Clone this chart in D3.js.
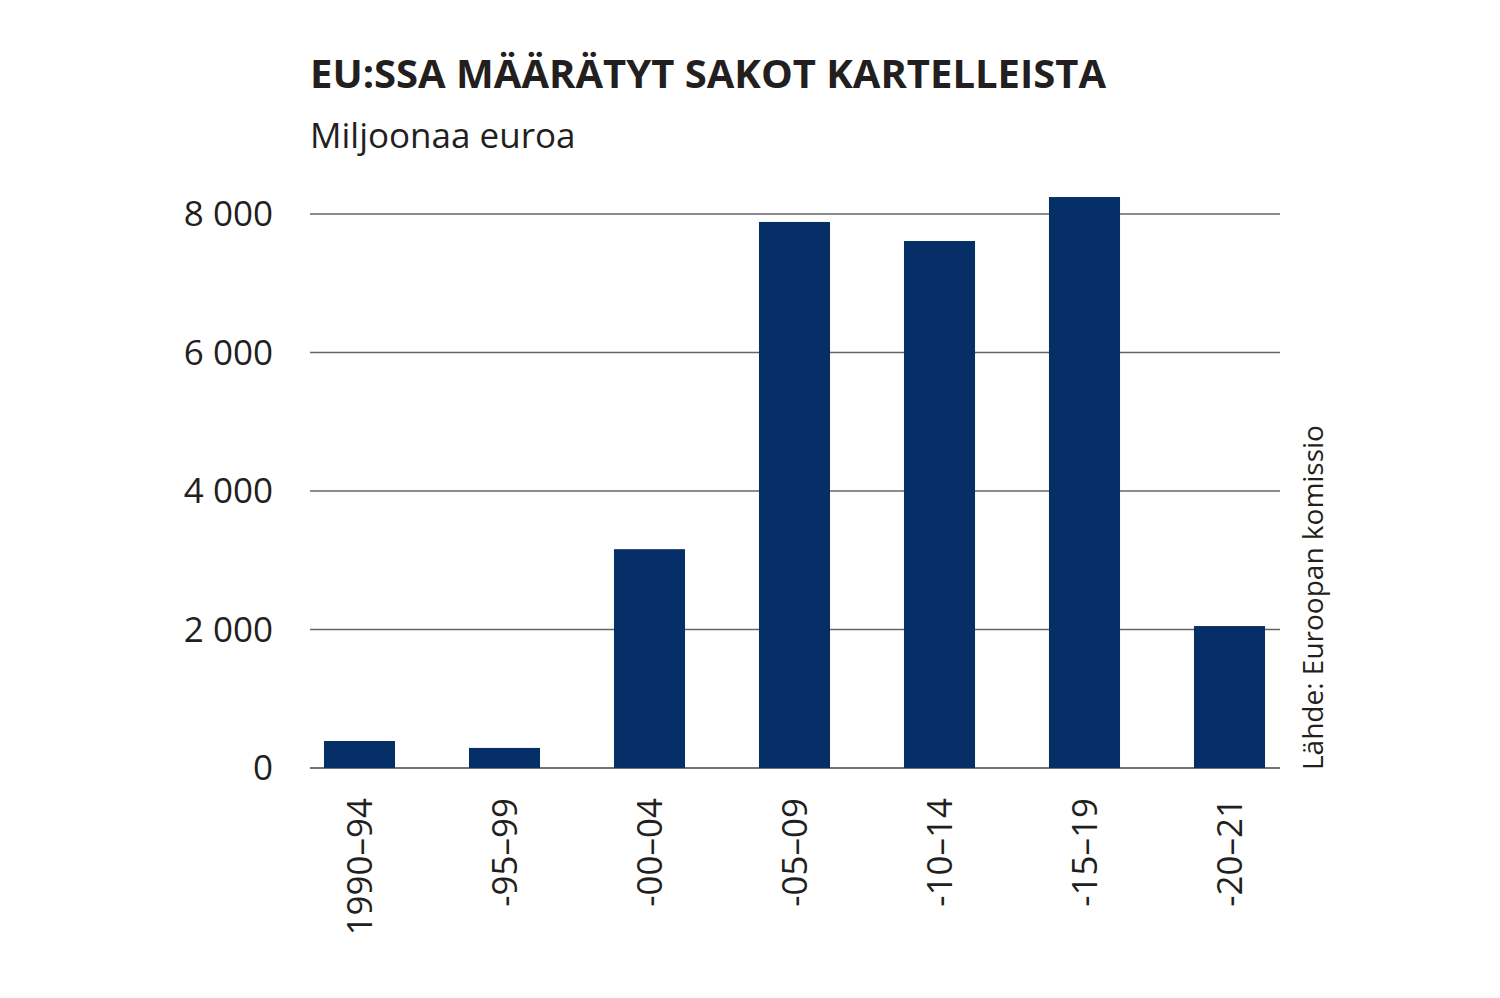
<!DOCTYPE html>
<html>
<head>
<meta charset="utf-8">
<script src="https://cdn.jsdelivr.net/npm/d3@7"></script>
<style>
  body { margin: 0; background: #fff; }
  text { font-family: "Open Sans", "Noto Sans", sans-serif; fill: #231f20; }
</style>
</head>
<body>
<div id="canvas"></div>
<script>
// DATA
const periods = ["1990–94", "-95–99", "-00–04", "-05–09", "-10–14", "-15–19", "-20–21"];
const fines = [390, 290, 3160, 7885, 7610, 8245, 2050];
const yTicks = [0, 2000, 4000, 6000, 8000];

// DIMENSIONS
const width = 1500, height = 998;
const gridLeft = 310, gridRight = 1280;

const svg = d3.select("#canvas").append("svg")
  .attr("width", width).attr("height", height);

// SCALES
const scaleX = d3.scaleBand(periods, [287, 1302]).paddingInner(0.51).paddingOuter(0.255);
const scaleY = d3.scaleLinear([0, 8000], [768, 214]);
const fmt = d => d3.format(",")(d).replace(",", " ");

// HEADLINES
svg.append("text").attr("x", 310).attr("y", 88)
  .style("font-size", "40px").style("font-weight", "bold")
  .style("font-family", "'Open Sans', sans-serif")
  .text("EU:SSA MÄÄRÄTYT SAKOT KARTELLEISTA");
svg.append("text").attr("x", 310).attr("y", 148)
  .style("font-size", "35px").text("Miljoonaa euroa");

// GRID
svg.selectAll("line.grid").data(yTicks).enter()
  .append("line")
  .attr("x1", gridLeft).attr("x2", gridRight)
  .attr("y1", d => scaleY(d)).attr("y2", d => scaleY(d))
  .attr("stroke", d => d === 0 ? "#444" : "#666").attr("stroke-width", 1.5);

svg.selectAll("text.ytick").data(yTicks).enter()
  .append("text")
  .attr("x", 273).attr("y", d => scaleY(d) + 12)
  .style("text-anchor", "end").style("font-size", "35px")
  .text(fmt);

// BARS
svg.selectAll("rect").data(periods).enter()
  .append("rect")
  .attr("x", d => scaleX(d))
  .attr("y", (d, i) => scaleY(fines[i]))
  .attr("width", scaleX.bandwidth())
  .attr("height", (d, i) => scaleY(0) - scaleY(fines[i]))
  .attr("fill", "#062f67");

// X LABELS
svg.selectAll("text.xlab").data(periods).enter()
  .append("text")
  .attr("transform", d => `translate(${scaleX(d) + scaleX.bandwidth() / 2 + 12},798) rotate(-90)`)
  .style("text-anchor", "end").style("font-size", "35px")
  .text(d => d);

// SOURCE
svg.append("text")
  .attr("transform", "translate(1323,770) rotate(-90)")
  .style("font-size", "28px")
  .text("Lähde: Euroopan komissio");
</script>
</body>
</html>
